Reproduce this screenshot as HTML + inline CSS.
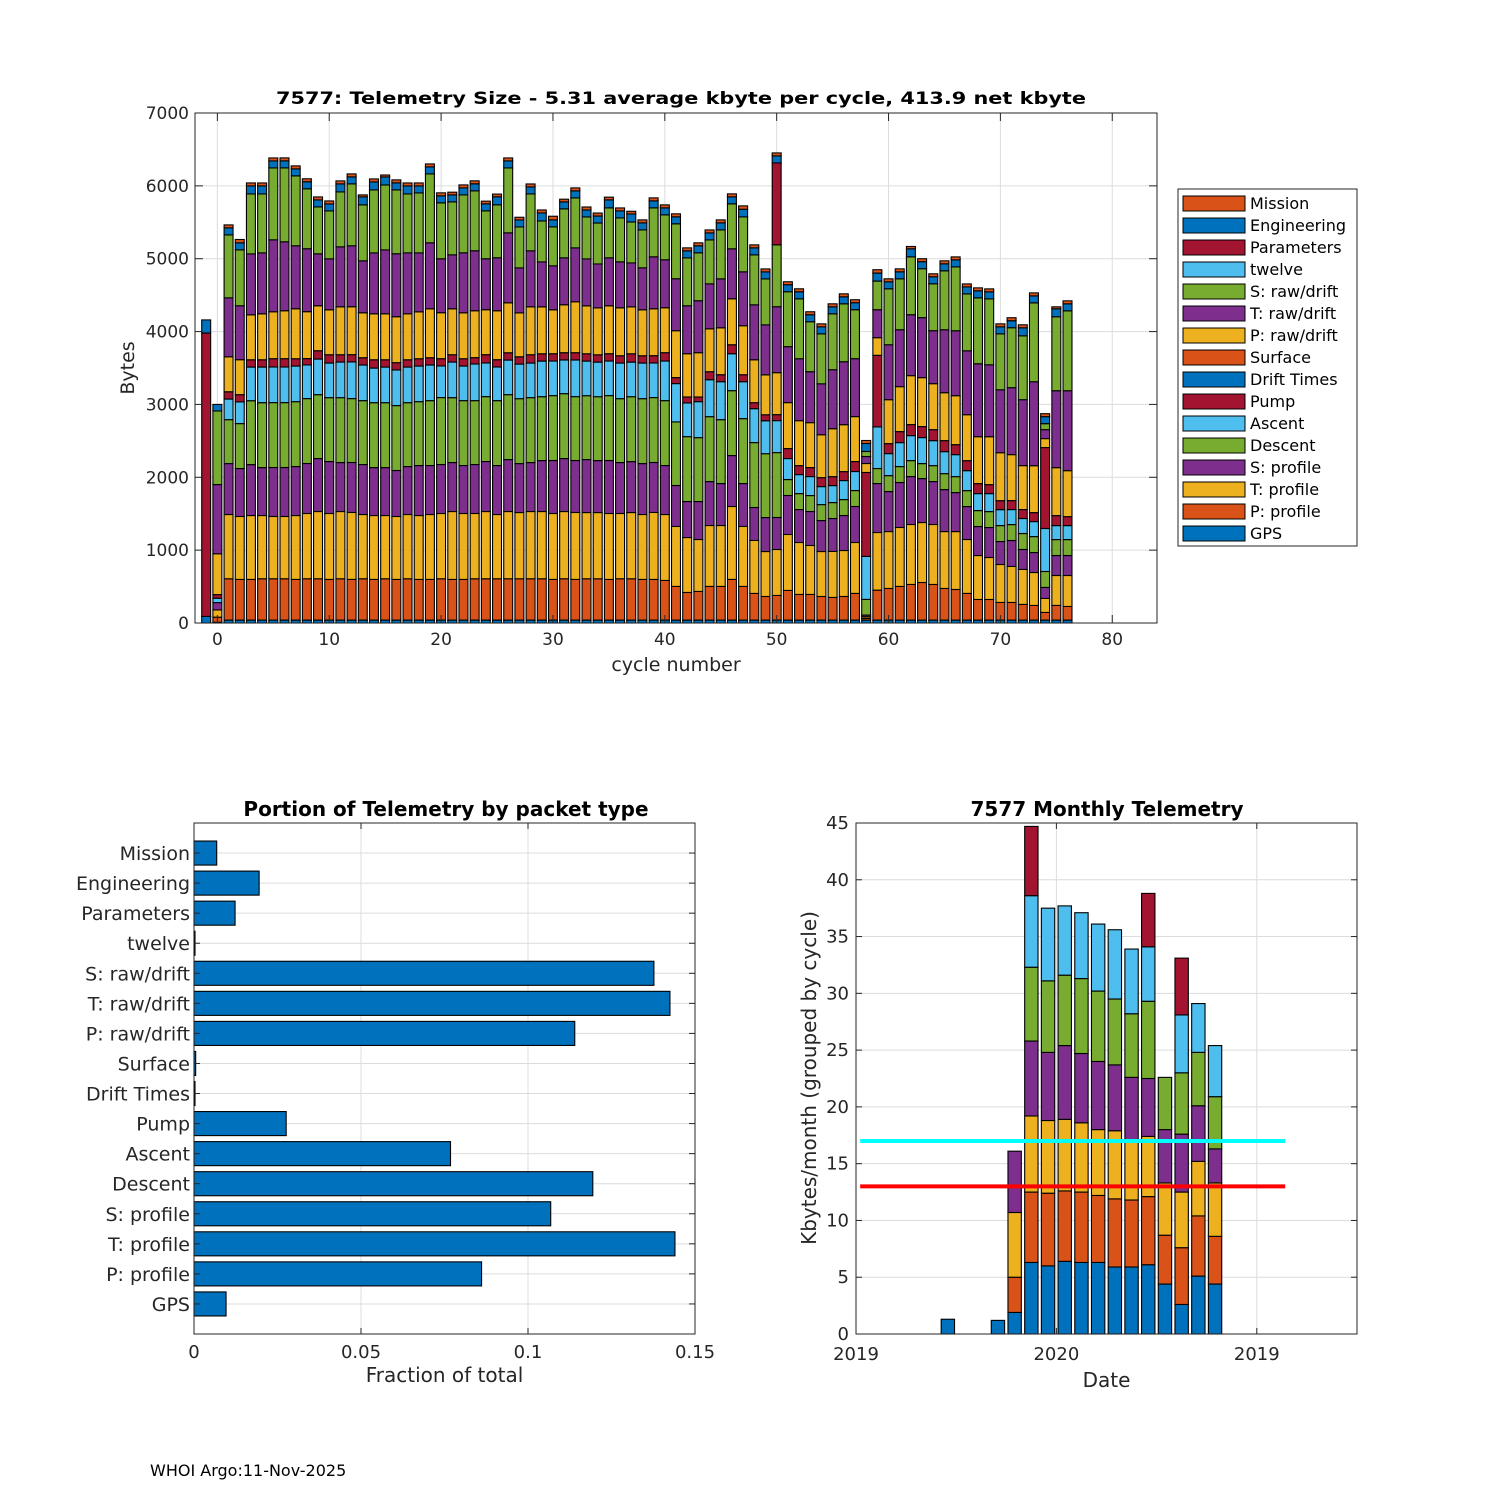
<!DOCTYPE html>
<html><head><meta charset="utf-8"><title>7577 Telemetry</title>
<style>
html,body{margin:0;padding:0;background:#fff;}
svg{display:block;font-family:"DejaVu Sans","Liberation Sans",sans-serif;}
</style></head>
<body>
<svg id="fig" width="1500" height="1500" viewBox="0 0 1500 1500" xmlns="http://www.w3.org/2000/svg">
<rect x="0" y="0" width="1500" height="1500" fill="#fff"/>
<g id="top"></g>
<g id="left"></g>
<g id="right"></g>
<text x="150" y="1476" font-size="16" fill="#000">WHOI Argo:11-Nov-2025</text>
</svg>
<script>
// ===== Top chart data (bytes per packet type per cycle) =====
const cycles = [-1,0,1,2,3,4,5,6,7,8,9,10,11,12,13,14,15,16,17,18,19,20,21,22,23,24,25,26,27,28,29,30,31,32,33,34,35,36,37,38,39,40,41,42,43,44,45,46,47,48,49,50,51,52,53,54,55,56,57,58,59,60,61,62,63,64,65,66,67,68,69,70,71,72,73,74,75,76];
const seriesNames = ["GPS","P: profile","T: profile","S: profile","Descent","Ascent","Pump","Drift Times","Surface","P: raw/drift","T: raw/drift","S: raw/drift","twelve","Parameters","Engineering","Mission"];
const gps = [90,10,40,40,40,40,40,40,40,40,40,40,40,40,40,40,40,40,40,40,40,40,40,40,40,40,40,40,40,40,40,40,40,40,40,40,40,40,40,40,40,40,40,40,40,40,40,40,40,40,40,40,40,40,40,40,40,40,40,40,40,40,40,40,40,40,40,40,40,40,40,40,40,40,40,40,40,40];
const pProfile = [0,70,567,558,558,567,567,567,558,567,567,558,567,558,567,558,567,558,567,558,558,567,558,558,567,567,567,567,567,567,567,558,567,558,567,567,558,567,567,558,558,544,462,379,393,462,462,558,462,366,324,338,407,352,352,324,311,324,366,23,411,434,462,489,516,489,434,420,366,283,283,242,242,215,201,105,201,187];
const tProfile = [0,100,882,864,877,868,855,855,877,896,923,905,923,919,882,877,868,864,882,877,891,896,932,905,896,923,882,923,909,923,923,905,923,919,909,909,905,896,909,891,919,905,823,754,713,836,836,1001,823,727,617,631,768,713,672,617,631,631,699,23,791,781,809,823,823,823,781,795,740,603,576,521,494,480,452,192,411,425];
const sProfile = [0,100,699,658,699,658,672,672,672,686,727,713,672,686,686,658,658,631,658,686,672,672,672,658,672,686,672,713,672,672,699,727,727,713,727,713,727,699,699,699,686,672,562,494,521,603,576,699,589,452,466,439,535,452,466,425,452,480,494,23,672,549,617,658,603,589,576,535,452,398,411,315,356,274,274,151,274,274];
const descent = [0,0,603,617,877,891,891,891,891,891,877,877,891,877,877,891,891,891,877,877,891,919,891,891,877,891,891,891,891,891,877,891,891,877,877,877,891,877,891,891,891,891,873,891,877,891,877,891,891,891,877,891,219,219,219,219,219,219,219,215,206,219,219,219,206,219,219,219,219,219,219,219,219,219,219,219,219,219];
const ascent = [0,60,283,297,462,489,489,489,489,462,489,475,489,503,489,475,489,489,489,489,489,434,489,475,503,462,462,475,475,475,489,475,462,503,475,475,475,489,475,489,475,544,526,462,494,507,521,507,507,466,452,439,288,261,261,247,233,261,261,590,571,302,329,343,357,343,302,302,274,233,247,219,206,206,206,590,192,192];
const pump = [3890,50,100,100,100,100,114,114,100,87,114,114,100,100,100,114,100,100,100,100,100,100,100,100,87,114,100,100,100,114,100,100,100,100,100,100,100,100,114,100,100,114,82,82,64,110,96,123,96,82,82,82,137,123,123,123,123,123,137,1152,983,137,151,151,151,151,151,137,137,137,123,123,123,123,123,1111,137,123];
const driftTimes = [0,0,0,0,0,0,0,0,0,0,0,0,0,0,0,0,0,0,0,0,0,0,0,0,0,0,0,0,0,0,0,0,0,0,0,0,0,0,0,0,0,0,0,0,0,0,0,0,0,0,0,0,0,0,0,0,0,0,0,0,0,0,0,0,0,0,0,0,0,0,0,0,0,0,0,0,0,0];
const surface = [0,0,0,0,0,0,0,0,0,0,0,0,0,0,0,0,0,0,0,0,0,0,0,0,0,0,0,0,0,0,0,0,0,0,0,0,0,0,0,0,0,0,0,0,0,0,0,0,0,0,0,0,0,0,0,0,0,0,0,0,0,0,0,0,0,0,0,0,0,0,0,0,0,0,0,0,0,0];
const pRaw = [0,560,480,480,617,631,644,658,686,644,617,617,658,658,617,631,631,631,631,644,672,631,631,631,644,617,672,686,603,658,644,603,658,699,658,644,658,658,644,631,644,617,644,594,608,589,644,631,672,589,548,576,631,617,617,589,658,644,617,123,242,603,617,672,672,631,658,672,631,644,658,658,631,603,644,123,658,631];
const tRaw = [0,950,809,740,836,836,987,946,864,864,713,699,823,836,713,836,877,864,836,809,905,740,740,823,823,699,727,960,617,768,617,603,644,740,644,603,658,631,603,576,713,658,713,658,713,617,672,686,740,754,686,905,768,850,699,699,809,864,795,96,384,754,781,836,823,727,864,891,877,1001,987,864,919,905,1152,123,1056,1097];
const sRaw = [0,1010,864,768,823,809,987,1015,960,823,644,658,754,850,768,864,891,877,809,823,946,768,727,795,823,658,727,891,562,781,562,535,672,686,576,562,686,603,562,521,672,617,754,658,658,603,672,617,754,686,631,850,754,823,686,686,768,795,672,69,393,768,699,795,672,644,809,877,781,905,905,768,823,877,1083,82,1015,1097];
const twelve = [0,0,0,0,0,0,0,0,0,0,0,0,0,0,0,0,0,0,0,0,0,0,0,0,0,0,0,0,0,0,0,0,0,0,0,0,0,0,0,0,0,0,0,0,0,0,0,0,0,0,0,0,0,0,0,0,0,0,0,0,0,0,0,0,0,0,0,0,0,0,0,0,0,0,0,0,0,0];
const parameters = [0,0,0,0,0,0,0,0,0,0,0,0,0,0,0,0,0,0,0,0,0,0,0,0,0,0,0,0,0,0,0,0,0,0,0,0,0,0,0,0,0,0,0,0,0,0,0,0,0,0,0,1124,0,0,0,0,0,0,0,0,0,0,0,0,0,0,0,0,0,0,0,0,0,0,0,0,0,0];
const engineering = [180,90,96,96,110,110,96,96,96,96,96,96,110,96,110,110,110,96,110,96,96,96,96,96,96,96,110,96,96,96,110,96,96,96,96,96,110,96,110,96,96,96,96,96,96,96,96,96,105,96,96,96,96,96,96,96,96,96,96,110,110,96,96,110,96,96,96,96,96,96,96,96,96,110,96,96,110,96];
const mission = [0,0,41,46,41,41,41,41,41,41,41,41,41,41,27,41,27,41,41,41,41,41,37,41,41,37,37,41,37,41,41,50,37,41,41,41,37,41,37,41,41,41,41,41,41,41,41,41,46,41,41,41,41,41,41,41,41,41,41,41,46,41,41,32,41,41,41,41,41,41,41,41,41,41,41,41,27,41];
const yTicksTop = [0,1000,2000,3000,4000,5000,6000,7000];
const xTicksTop = [0,10,20,30,40,50,60,70,80];

// ===== Bottom-left data =====
const packetTypes = ["GPS","P: profile","T: profile","S: profile","Descent","Ascent","Pump","Drift Times","Surface","P: raw/drift","T: raw/drift","S: raw/drift","twelve","Parameters","Engineering","Mission"];
const fractions = [0.0096,0.0861,0.1440,0.1068,0.1194,0.0768,0.0276,0.0003,0.0005,0.1140,0.1425,0.1377,0.0003,0.0123,0.0195,0.0068];
const xTicksFrac = [0,0.05,0.1,0.15];
const xTickLabelsFrac = ["0","0.05","0.1","0.15"];

// ===== Bottom-right data (months since Jan 2019) =====
const months = [5.5,8.5,9.5,10.5,11.5,12.5,13.5,14.5,15.5,16.5,17.5,18.5,19.5,20.5,21.5];
const mBlue   = [1.3,1.2,1.9,6.3,6.0,6.4,6.3,6.3,5.9,5.9,6.1,4.4,2.6,5.1,4.4];
const mOrange = [0,0,3.1,6.2,6.4,6.2,6.2,5.9,6.0,5.9,6.0,4.3,5.0,5.3,4.2];
const mYellow = [0,0,5.7,6.7,6.4,6.3,6.1,5.8,6.0,5.2,5.3,4.6,4.9,4.8,4.7];
const mPurple = [0,0,5.4,6.6,6.0,6.5,6.1,6.0,5.8,5.6,5.1,4.7,5.1,4.9,3.0];
const mGreen  = [0,0,0,6.5,6.3,6.2,6.6,6.2,5.8,5.6,6.8,4.6,5.4,4.7,4.6];
const mLBlue  = [0,0,0,6.3,6.4,6.1,5.8,5.9,6.1,5.7,4.8,0,5.1,4.3,4.5];
const mRed    = [0,0,0,6.1,0,0,0,0,0,0,4.7,0,5.0,0,0];
const yTicksMonth = [0,5,10,15,20,25,30,35,40,45];
const xTicksMonth = [0,12,24];
const xTickLabelsMonth = ["2019","2020","2019"];
const refLines = [17,13];

const NS = "http://www.w3.org/2000/svg";
const COLORS = ["#0072BD","#D95319","#EDB120","#7E2F8E","#77AC30","#4DBEEE","#A2142F"];
function mk(parent, tag, attrs, text){
  const e = document.createElementNS(NS, tag);
  for (const k in attrs) e.setAttribute(k, attrs[k]);
  if (text !== undefined) e.textContent = text;
  parent.appendChild(e);
  return e;
}
function slug(s){return s.toLowerCase().replace(/[^a-z0-9]+/g,'-').replace(/^-|-$/g,'');}

// ---------- TOP CHART ----------
(function(){
  const g = document.getElementById('top');
  const L=195,R=1157,T=113,B=623, xmin=-2,xmax=84,ymin=0,ymax=7000;
  const X=v=>L+(v-xmin)/(xmax-xmin)*(R-L);
  const Y=v=>B-(v-ymin)/(ymax-ymin)*(B-T);
  mk(g,'rect',{x:L,y:T,width:R-L,height:B-T,fill:'#fff'});
  yTicksTop.forEach(v=>{
    const gl=mk(g,'line',{x1:L,x2:R,y1:Y(v),y2:Y(v),stroke:'#dcdcdc','stroke-width':1});
    
    
    const t=mk(g,'text',{x:L-6,y:Y(v)+6,'font-size':17,'text-anchor':'end',fill:'#262626'},String(v));
    
    
  });
  xTicksTop.forEach(v=>{
    const gl=mk(g,'line',{x1:X(v),x2:X(v),y1:T,y2:B,stroke:'#dcdcdc','stroke-width':1});
    
    
    const t=mk(g,'text',{x:X(v),y:B+22,'font-size':17,'text-anchor':'middle',fill:'#262626'},String(v));
    
    
  });
  const series=[gps,pProfile,tProfile,sProfile,descent,ascent,pump,driftTimes,surface,pRaw,tRaw,sRaw,twelve,parameters,engineering,mission];
  const w=(X(0.8)-X(0));
  cycles.forEach((c,i)=>{
    let cum=0;
    series.forEach((s,k)=>{
      const v=s[i]; if(!v) return;
      const y0=Y(cum), y1=Y(cum+v);
      const r=mk(g,'rect',{x:X(c)-w/2,y:y1,width:w,height:y0-y1,fill:COLORS[k%7],stroke:'#000','stroke-width':1.1});
      
      
      cum+=v;
    });
  });
  mk(g,'rect',{x:L,y:T,width:R-L,height:B-T,fill:'none',stroke:'#262626','stroke-width':1});
  yTicksTop.forEach(v=>{mk(g,'line',{x1:L,x2:L+8,y1:Y(v),y2:Y(v),stroke:'#262626'});mk(g,'line',{x1:R,x2:R-8,y1:Y(v),y2:Y(v),stroke:'#262626'});});
  xTicksTop.forEach(v=>{mk(g,'line',{x1:X(v),x2:X(v),y1:B,y2:B-8,stroke:'#262626'});mk(g,'line',{x1:X(v),x2:X(v),y1:T,y2:T+8,stroke:'#262626'});});
  const tt=mk(g,'text',{x:681,y:104,'font-size':17,'font-weight':'bold','text-anchor':'middle',fill:'#000',textLength:810,lengthAdjust:'spacingAndGlyphs'},'7577: Telemetry Size - 5.31 average kbyte per cycle,  413.9 net kbyte');
  
  
  const xl=mk(g,'text',{x:(L+R)/2,y:671,'font-size':19,'text-anchor':'middle',fill:'#262626'},'cycle number');
  
  
  const yl=mk(g,'text',{x:0,y:0,'font-size':19,'text-anchor':'middle',fill:'#262626',transform:'translate(134,368) rotate(-90)'},'Bytes');
  
  
  const lg=mk(g,'g',{});
  
  
  mk(lg,'rect',{x:1178,y:189,width:179,height:357,fill:'#fff',stroke:'#262626','stroke-width':1});
  for(let j=0;j<16;j++){
    const k=15-j; const cy=203+j*22;
    const e=mk(lg,'g',{});
    
    
    mk(e,'rect',{x:1183,y:cy-7,width:62,height:15,fill:COLORS[k%7],stroke:'#000','stroke-width':1});
    mk(e,'text',{x:1250,y:cy+6,'font-size':16,fill:'#000'},seriesNames[k]);
  }
})();

// ---------- BOTTOM LEFT ----------
(function(){
  const g=document.getElementById('left');
  const L=194,R=695,T=823,B=1334, xmin=0,xmax=0.15,ymin=0,ymax=17;
  const X=v=>L+(v-xmin)/(xmax-xmin)*(R-L);
  const Y=v=>B-(v-ymin)/(ymax-ymin)*(B-T);
  mk(g,'rect',{x:L,y:T,width:R-L,height:B-T,fill:'#fff'});
  xTicksFrac.forEach((v,i)=>{
    mk(g,'line',{x1:X(v),x2:X(v),y1:T,y2:B,stroke:'#dcdcdc'});
    const t=mk(g,'text',{x:X(v),y:B+24,'font-size':18,'text-anchor':'middle',fill:'#262626'},xTickLabelsFrac[i]);
    
    
  });
  packetTypes.forEach((p,i)=>{
    mk(g,'line',{x1:L,x2:R,y1:Y(i+1),y2:Y(i+1),stroke:'#dcdcdc'});
    const t=mk(g,'text',{x:L-4,y:Y(i+1)+7,'font-size':19,'text-anchor':'end',fill:'#262626'},p);
    
    
  });
  packetTypes.forEach((p,i)=>{
    const y0=Y(i+1+0.4), y1=Y(i+1-0.4);
    const r=mk(g,'rect',{x:X(0),y:y0,width:X(fractions[i])-X(0),height:y1-y0,fill:'#0072BD',stroke:'#000','stroke-width':1.1});
    
    
  });
  mk(g,'rect',{x:L,y:T,width:R-L,height:B-T,fill:'none',stroke:'#262626'});
  xTicksFrac.forEach(v=>{mk(g,'line',{x1:X(v),x2:X(v),y1:B,y2:B-6,stroke:'#262626'});mk(g,'line',{x1:X(v),x2:X(v),y1:T,y2:T+6,stroke:'#262626'});});
  packetTypes.forEach((p,i)=>{mk(g,'line',{x1:L,x2:L+6,y1:Y(i+1),y2:Y(i+1),stroke:'#262626'});mk(g,'line',{x1:R,x2:R-6,y1:Y(i+1),y2:Y(i+1),stroke:'#262626'});});
  const tt=mk(g,'text',{x:446,y:816,'font-size':20,'font-weight':'bold','text-anchor':'middle',fill:'#000'},'Portion of Telemetry by packet type');
  
  
  const xl=mk(g,'text',{x:(L+R)/2,y:1382,'font-size':20,'text-anchor':'middle',fill:'#262626'},'Fraction of total');
  
  
})();

// ---------- BOTTOM RIGHT ----------
(function(){
  const g=document.getElementById('right');
  const L=856,R=1357,T=823,B=1334, xmin=0,xmax=30,ymin=0,ymax=45;
  const X=v=>L+(v-xmin)/(xmax-xmin)*(R-L);
  const Y=v=>B-(v-ymin)/(ymax-ymin)*(B-T);
  mk(g,'rect',{x:L,y:T,width:R-L,height:B-T,fill:'#fff'});
  yTicksMonth.forEach(v=>{
    mk(g,'line',{x1:L,x2:R,y1:Y(v),y2:Y(v),stroke:'#dcdcdc'});
    const t=mk(g,'text',{x:L-7,y:Y(v)+6,'font-size':18,'text-anchor':'end',fill:'#262626'},String(v));
    
    
  });
  xTicksMonth.forEach((v,i)=>{
    mk(g,'line',{x1:X(v),x2:X(v),y1:T,y2:B,stroke:'#dcdcdc'});
    const t=mk(g,'text',{x:X(v),y:B+26,'font-size':18,'text-anchor':'middle',fill:'#262626'},xTickLabelsMonth[i]);
    
    
  });
  const ms=[mBlue,mOrange,mYellow,mPurple,mGreen,mLBlue,mRed];
  const w=X(0.8)-X(0);
  months.forEach((m,i)=>{
    let cum=0;
    ms.forEach((s,k)=>{
      const v=s[i]; if(!v) return;
      const y0=Y(cum), y1=Y(cum+v);
      const r=mk(g,'rect',{x:X(m)-w/2,y:y1,width:w,height:y0-y1,fill:COLORS[k],stroke:'#000','stroke-width':1.1});
      
      
      cum+=v;
    });
  });
  const lc=['#00FFFF','#FF0000'];
  refLines.forEach((v,i)=>{
    const l=mk(g,'line',{x1:X(0.25),x2:X(25.7),y1:Y(v),y2:Y(v),stroke:lc[i],'stroke-width':4});
    
    
  });
  mk(g,'rect',{x:L,y:T,width:R-L,height:B-T,fill:'none',stroke:'#262626'});
  yTicksMonth.forEach(v=>{mk(g,'line',{x1:L,x2:L+6,y1:Y(v),y2:Y(v),stroke:'#262626'});mk(g,'line',{x1:R,x2:R-6,y1:Y(v),y2:Y(v),stroke:'#262626'});});
  xTicksMonth.forEach(v=>{mk(g,'line',{x1:X(v),x2:X(v),y1:B,y2:B-6,stroke:'#262626'});mk(g,'line',{x1:X(v),x2:X(v),y1:T,y2:T+6,stroke:'#262626'});});
  const tt=mk(g,'text',{x:1107,y:816,'font-size':20,'font-weight':'bold','text-anchor':'middle',fill:'#000'},'7577 Monthly Telemetry');
  
  
  const xl=mk(g,'text',{x:(L+R)/2,y:1387,'font-size':20,'text-anchor':'middle',fill:'#262626'},'Date');
  
  
  const yl=mk(g,'text',{x:0,y:0,'font-size':20,'text-anchor':'middle',fill:'#262626',transform:'translate(816,1078) rotate(-90)'},'Kbytes/month (grouped by cycle)');
  
  
})();
</script>
</body></html>
